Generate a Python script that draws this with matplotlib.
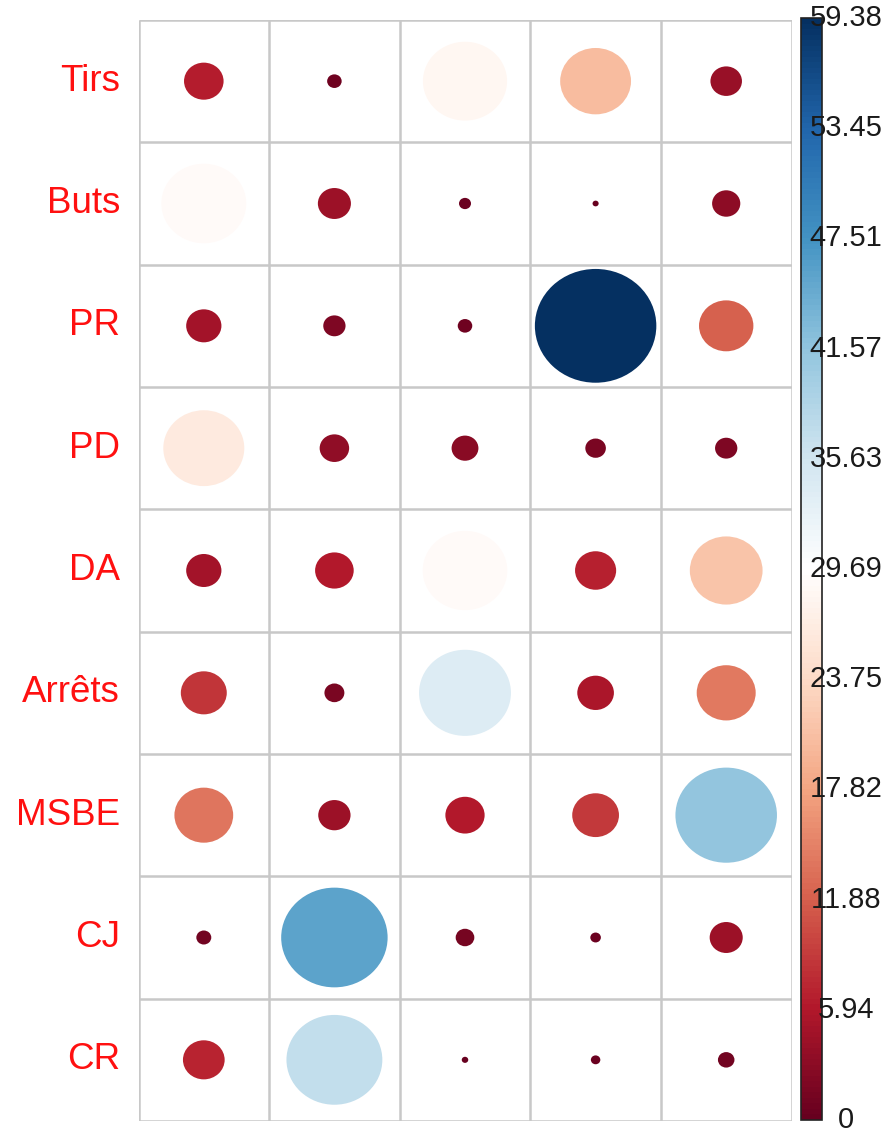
import numpy as np
import matplotlib
matplotlib.use("Agg")
import matplotlib.pyplot as plt
import matplotlib.transforms as mtransforms
from matplotlib.patches import Ellipse
from matplotlib.colors import LinearSegmentedColormap, Normalize
import matplotlib.colorbar as mcolorbar

plt.rcParams['font.family'] = ['Liberation Sans', 'DejaVu Sans']

row_labels = ["Tirs", "Buts", "PR", "PD", "DA", "Arrêts", "MSBE", "CJ", "CR"]
n_cols = 5

tirs   = [6.3, 0.85, 28.5, 20.2, 4.0]
buts   = [29.0, 4.4, 0.58, 0.15, 3.2]
pr     = [5.0, 2.0, 0.85, 59.38, 11.9]
pd_    = [26.4, 3.5, 2.9, 1.7, 2.0]
da     = [5.0, 6.0, 28.8, 6.8, 21.3]
arrets = [8.5, 1.6, 34.0, 5.4, 14.0]
msbe   = [13.9, 4.2, 6.2, 8.8, 41.5]
cj     = [0.9, 45.6, 1.4, 0.45, 4.4]
cr     = [7.0, 37.0, 0.17, 0.36, 1.1]

values = np.array([tirs, buts, pr, pd_, da, arrets, msbe, cj, cr])

vmin, vmax = 0.0, 59.38
cbar_ticks = [0, 5.94, 11.88, 17.82, 23.75, 29.69, 35.63, 41.57, 47.51, 53.45, 59.38]
cbar_labels = ["0", "5.94", "11.88", "17.82", "23.75", "29.69", "35.63", "41.57", "47.51", "53.45", "59.38"]

cmap = LinearSegmentedColormap.from_list(
    "corrRdBu",
    ["#67001F", "#B2182B", "#D6604D", "#F4A582", "#FDDBC7", "#FFFFFF",
     "#D1E5F0", "#92C5DE", "#4393C3", "#2166AC", "#053061"], N=200)
norm = Normalize(vmin=vmin, vmax=vmax)

W, H = 892, 1132
fig = plt.figure(figsize=(W / 100, H / 100), dpi=100)

gl, gr, gt, gb = 138.5, 791.5, 20, 1121
ax = fig.add_axes([gl / W, 1 - gb / H, (gr - gl) / W, (gb - gt) / H])
n_rows = len(row_labels)
ax.set_xlim(0, n_cols)
ax.set_ylim(n_rows, 0)
ax.set_axis_off()

grid_col = "#c8c8c8"
for i in range(n_rows + 1):
    ax.plot([0, n_cols], [i, i], color=grid_col, lw=1.8, solid_capstyle='butt', zorder=1)
for j in range(n_cols + 1):
    ax.plot([j, j], [0, n_rows], color=grid_col, lw=1.8, solid_capstyle='butt', zorder=1)

scale = 0.93
for i in range(n_rows):
    for j in range(n_cols):
        v = values[i, j]
        s = scale * np.sqrt(abs(v) / vmax)
        e = Ellipse((j + 0.5, i + 0.5), width=s, height=s,
                    facecolor=cmap(norm(v)), edgecolor='none', zorder=2)
        ax.add_patch(e)

cell_w_px = (gr - gl) / n_cols
for i, lab in enumerate(row_labels):
    ax.text(-(gl - 120) / cell_w_px, i + 0.5, lab, ha='right', va='center',
            color='#ff1010', fontsize=26.5, clip_on=False)

# colorbar
cl, cr_, ct, cb = 801, 822, 18, 1120
cax = fig.add_axes([cl / W, 1 - cb / H, (cr_ - cl) / W, (cb - ct) / H])
cbar = mcolorbar.ColorbarBase(cax, cmap=cmap, norm=norm, orientation='vertical')
cbar.set_ticks([])
cbar.outline.set_edgecolor('#222222')
cbar.outline.set_linewidth(1.2)
lab_x = (846 - cl) / (cr_ - cl)
trans = mtransforms.blended_transform_factory(cax.transAxes, cax.transData)
for t, lab in zip(cbar_ticks, cbar_labels):
    cax.text(lab_x, t, lab, ha='center', va='center', fontsize=21,
             color='#1a1a1a', clip_on=False, zorder=5, transform=trans)

fig.savefig("out.png", dpi=100, facecolor='white')
